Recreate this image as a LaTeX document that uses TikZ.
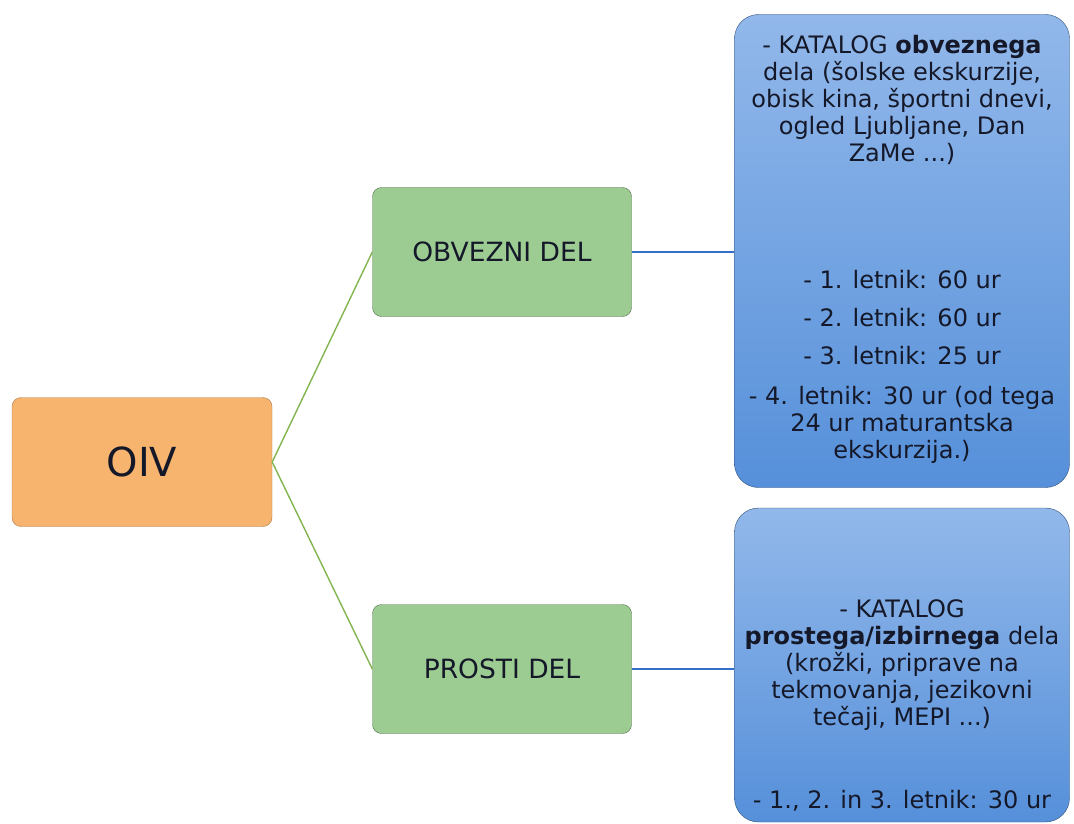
\documentclass[tikz,border=0pt]{standalone}
\usepackage{fontspec}
\setmainfont{DejaVu Sans}
\usetikzlibrary{positioning}
\definecolor{oivOrange}{RGB}{246,180,110}
\definecolor{delGreen}{RGB}{156,204,146}
\definecolor{katTop}{RGB}{146,184,234}
\definecolor{katBottom}{RGB}{86,144,218}
\definecolor{linkBlue}{RGB}{52,110,200}
\definecolor{linkGreen}{RGB}{130,180,80}
\definecolor{inkNavy}{RGB}{20,24,40}
\newcommand{\pictureWidth}{1074}
\newcommand{\pictureHeight}{824}
\newcommand{\katalogFont}{\fontsize{24}{27}\selectfont}

\begin{document}
\begin{tikzpicture}[x=1pt, y=-1pt, every node/.style={text=inkNavy},
    rootbox/.style={draw=oivOrange!70!black, fill=oivOrange, rounded corners=9pt,
      minimum width=260pt, minimum height=129pt, font=\fontsize{40}{46}\selectfont},
    delbox/.style={draw=delGreen!55!black, fill=delGreen, rounded corners=9pt,
      minimum width=259pt, minimum height=129pt, font=\fontsize{26.5}{30}\selectfont},
    katbox/.style={draw=katBottom!55!black, top color=katTop, bottom color=katBottom,
      rounded corners=24pt, minimum width=335pt, inner sep=0pt},
    greenlink/.style={draw=linkGreen, line width=1.4pt},
    bluelink/.style={draw=linkBlue, line width=1.6pt}]
  \useasboundingbox (0,0) rectangle (\pictureWidth,\pictureHeight);
  \node[rootbox] (oiv) at (142,462) {OIV};
  \node[delbox] (obvezni) at (502,252) {OBVEZNI DEL};
  \node[delbox] (prosti) at (502,669) {PROSTI DEL};
  \node[katbox, minimum height=473pt] (katObvezni) at (902,251) {};
  \node[katbox, minimum height=314pt] (katProsti) at (902,665) {};
  \node[align=center, font=\katalogFont, anchor=north] (txtObvezni) at (902,32)
    {- KATALOG \textbf{obveznega}\\ dela (šolske ekskurzije,\\ obisk kina, športni dnevi,\\
     ogled Ljubljane, Dan\\ ZaMe ...)};
  \node[align=center, font=\katalogFont, anchor=north] (txtLetnik) at (902,267)
    {- 1. letnik: 60 ur\\[11pt] - 2. letnik: 60 ur\\[11pt] - 3. letnik: 25 ur\\[13pt]
     - 4. letnik: 30 ur (od tega\\ 24 ur maturantska\\ ekskurzija.)};
  \node[align=center, font=\katalogFont, anchor=north] (txtProsti) at (902,596)
    {- KATALOG\\ \textbf{prostega/izbirnega} dela\\ (krožki, priprave na\\
     tekmovanja, jezikovni\\ tečaji, MEPI ...)};
  \node[font=\katalogFont, anchor=north] (txtVsi) at (902,787)
    {- 1., 2. in 3. letnik: 30 ur};
  \draw[greenlink] (oiv.east) -- (obvezni.west);
  \draw[greenlink] (oiv.east) -- (prosti.west);
  \draw[bluelink] (obvezni.east) -- (obvezni.east -| katObvezni.west);
  \draw[bluelink] (prosti.east) -- (prosti.east -| katProsti.west);
\end{tikzpicture}
\end{document}
